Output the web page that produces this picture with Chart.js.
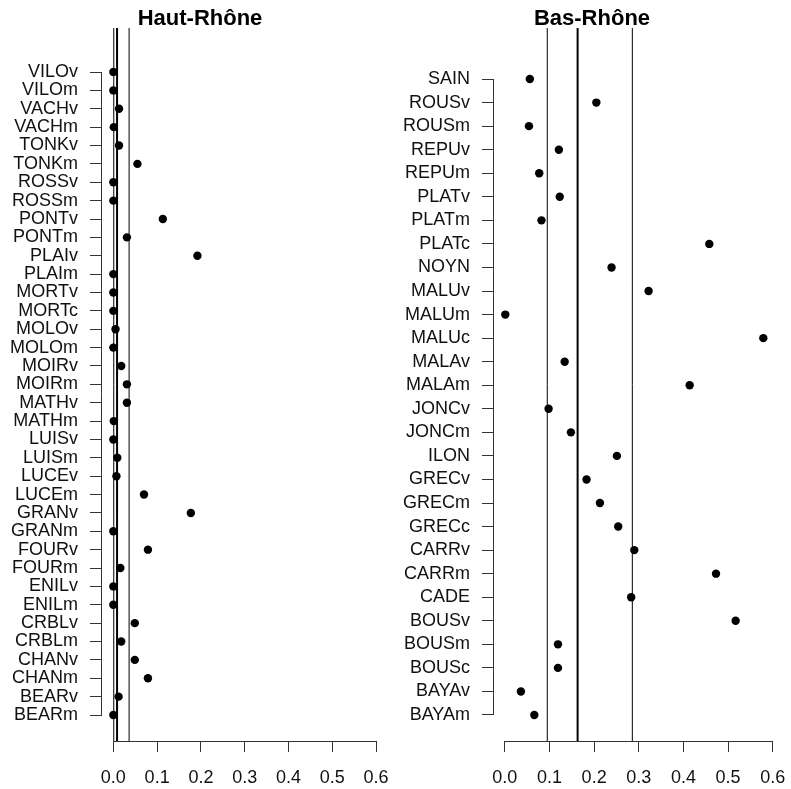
<!DOCTYPE html>
<html>
<head>
<meta charset="utf-8">
<script src="https://cdn.jsdelivr.net/npm/chart.js@4.4.0/dist/chart.umd.min.js"></script>
<style>
  html, body { margin: 0; padding: 0; background: #fff; }
  #wrap { position: relative; width: 791px; height: 789px; overflow: hidden; }
  #haut { position: absolute; left: 0; top: 0; }
  #bas { position: absolute; left: 393px; top: 0; }
</style>
</head>
<body>
<div id="wrap">
  <canvas id="haut" width="400" height="789"></canvas>
  <canvas id="bas" width="398" height="789"></canvas>
</div>
<script>
// ticks de l'axe x (communs aux deux panneaux)
const xTicks = [0, 0.1, 0.2, 0.3, 0.4, 0.5, 0.6];

// Haut-Rhône, de haut en bas
const hautLabels = ['VILOv', 'VILOm', 'VACHv', 'VACHm', 'TONKv', 'TONKm', 'ROSSv', 'ROSSm',
  'PONTv', 'PONTm', 'PLAIv', 'PLAIm', 'MORTv', 'MORTc', 'MOLOv', 'MOLOm', 'MOIRv', 'MOIRm',
  'MATHv', 'MATHm', 'LUISv', 'LUISm', 'LUCEv', 'LUCEm', 'GRANv', 'GRANm', 'FOURv', 'FOURm',
  'ENILv', 'ENILm', 'CRBLv', 'CRBLm', 'CHANv', 'CHANm', 'BEARv', 'BEARm'];
const hautValues = [0.0, 0.0, 0.013, 0.001, 0.013, 0.055, 0.0, 0.0,
  0.113, 0.031, 0.192, 0.0, 0.0, 0.0, 0.005, 0.0, 0.018, 0.031,
  0.031, 0.001, 0.0, 0.009, 0.007, 0.070, 0.177, 0.0, 0.079, 0.016,
  0.0, 0.0, 0.049, 0.018, 0.049, 0.079, 0.012, 0.0];
// quartiles : Q1, mediane (trait epais), Q3
const hautLines = [0.001, 0.0085, 0.036];

// Bas-Rhône, de haut en bas
const basLabels = ['SAIN', 'ROUSv', 'ROUSm', 'REPUv', 'REPUm', 'PLATv', 'PLATm', 'PLATc',
  'NOYN', 'MALUv', 'MALUm', 'MALUc', 'MALAv', 'MALAm', 'JONCv', 'JONCm', 'ILON',
  'GRECv', 'GRECm', 'GRECc', 'CARRv', 'CARRm', 'CADE', 'BOUSv', 'BOUSm', 'BOUSc',
  'BAYAv', 'BAYAm'];
const basValues = [0.056, 0.205, 0.054, 0.121, 0.077, 0.123, 0.082, 0.458,
  0.239, 0.322, 0.001, 0.579, 0.134, 0.414, 0.098, 0.148, 0.251,
  0.183, 0.213, 0.254, 0.290, 0.473, 0.283, 0.517, 0.119, 0.119,
  0.036, 0.066];
const basLines = [0.095, 0.163, 0.2856];

const police = "'Liberation Sans', Arial, sans-serif";

// axes a la R : le trait ne couvre que la plage des ticks
const axesR = {
  id: 'axesR',
  afterDraw(chart) {
    const { ctx, scales: { x, y } } = chart;
    const yt = y.ticks;
    ctx.save();
    ctx.strokeStyle = '#333';
    ctx.lineWidth = 1;
    ctx.beginPath();
    ctx.moveTo(x.getPixelForValue(xTicks[0]), y.bottom + 0.5);
    ctx.lineTo(x.getPixelForValue(xTicks[xTicks.length - 1]), y.bottom + 0.5);
    ctx.moveTo(x.left - 0.5, y.getPixelForValue(yt[0].value));
    ctx.lineTo(x.left - 0.5, y.getPixelForValue(yt[yt.length - 1].value));
    ctx.stroke();
    ctx.restore();
  }
};

function dotchart(id, titre, labels, valeurs, lignes, cfg) {
  const n = labels.length;
  const points = valeurs.map((v, i) => ({ x: v, y: n - i }));

  const datasets = [{
    data: points,
    backgroundColor: '#000',
    borderWidth: 0,
    pointRadius: 4.2,
    order: 0
  }];
  lignes.forEach((q, k) => {
    datasets.push({
      data: [{ x: q, y: cfg.yMin }, { x: q, y: cfg.yMax }],
      showLine: true,
      borderColor: '#000',
      borderWidth: k === 1 ? 2 : 1,
      pointRadius: 0,
      order: 1
    });
  });

  return new Chart(document.getElementById(id), {
    type: 'scatter',
    data: { datasets: datasets },
    plugins: [axesR],
    options: {
      responsive: false,
      animation: false,
      layout: { padding: 0 },
      plugins: {
        legend: { display: false },
        tooltip: { enabled: false },
        title: {
          display: true,
          text: titre,
          color: '#000',
          font: { family: police, size: 22, weight: 'bold', lineHeight: 0.82 },
          padding: { top: 10, bottom: 0 }
        }
      },
      scales: {
        x: {
          type: 'linear',
          min: cfg.xMin,
          max: cfg.xMax,
          afterBuildTicks: s => { s.ticks = xTicks.map(v => ({ value: v })); },
          afterFit: s => { s.height = 48; s.paddingLeft = 0; s.paddingRight = 0; },
          ticks: {
            callback: v => v.toFixed(1),
            autoSkip: false,
            maxRotation: 0,
            color: '#111',
            font: { family: police, size: 18 },
            padding: 15
          },
          grid: { drawOnChartArea: false, tickLength: 11, color: '#333' },
          border: { display: false }
        },
        y: {
          type: 'linear',
          min: cfg.yMin,
          max: cfg.yMax,
          afterBuildTicks: s => { s.ticks = labels.map((l, i) => ({ value: n - i })); },
          afterFit: s => { s.width = cfg.largeurAxe; s.paddingTop = 0; s.paddingBottom = 0; },
          ticks: {
            callback: v => labels[n - Math.round(v)],
            autoSkip: false,
            color: '#111',
            font: { family: police, size: 18 },
            padding: 12
          },
          grid: { drawOnChartArea: false, tickLength: 12, color: '#333' },
          border: { display: false }
        }
      }
    }
  });
}

dotchart('haut', 'Haut-Rhône', hautLabels, hautValues, hautLines,
  { xMin: -0.0259, xMax: 0.6451, yMin: -0.415, yMax: 38.395, largeurAxe: 102 });
dotchart('bas', 'Bas-Rhône', basLabels, basValues, basLines,
  { xMin: -0.0243, xMax: 0.6316, yMin: -0.104, yMax: 30.165, largeurAxe: 101 });
</script>
</body>
</html>
